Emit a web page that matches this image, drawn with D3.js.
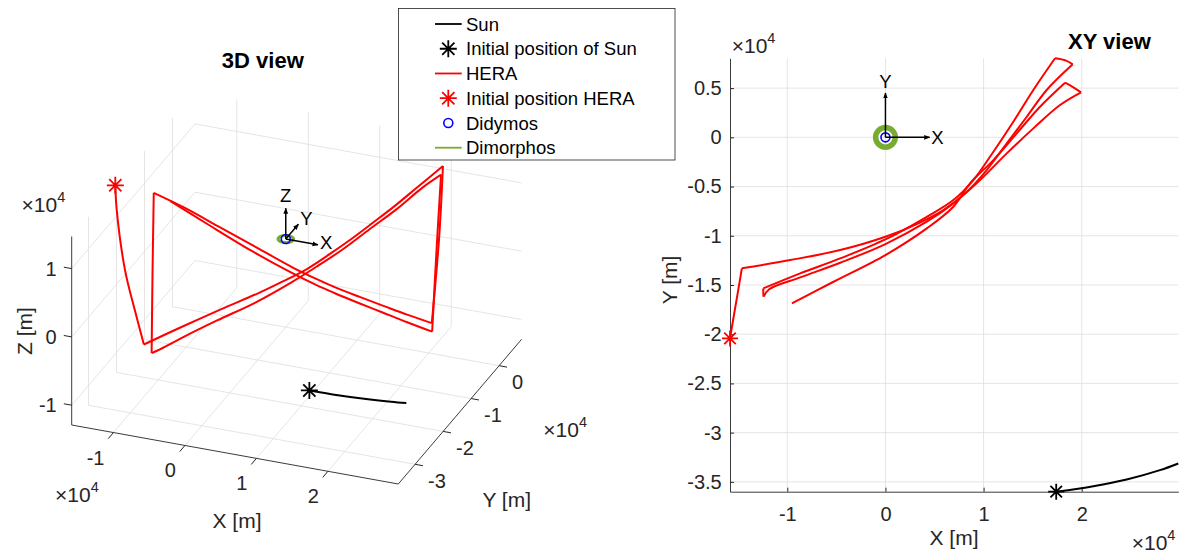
<!DOCTYPE html>
<html lang="en">
<head>
<meta charset="UTF-8">
<title>HERA trajectory - 3D and XY views</title>
<script src="https://d3js.org/d3.v7.min.js"></script>
<style>
  body { margin: 0; background: #fff; }
  svg { display: block; font-family: "Liberation Sans", Arial, Helvetica, sans-serif; }
</style>
</head>
<body>
<svg id="chart" width="1186" height="555"></svg>
<script>
// HERA trajectory in the Didymos-centred frame [m]
var heraX = [-15840, -15780, -15430, -14990, -14630, -9700, -4610, 0, 3190, 5910, 8290, 10320, 12360, 14400, 16430, 19080,
             18400, 17280, 15070, 13030, 11000, 8960, 6920, 4210, 0, -4610, -8690, -12450,
             -12450, -12420, -11880, -8690, -4610, 0, 4210, 6920, 9640, 12360, 15070, 17790, 19930,
             19110, 18300, 15750, 13380, 11000, 8620, 6920, 4210, 0, -5290, -9530];
var heraY = [-20430, -20070, -18010, -15450, -13310, -12470, -11450, -10100, -8810, -7390, -5530, -3320, -610, 2090, 4810, 7420,
             7800, 8030, 4810, 1590, -1460, -4340, -6370, -8070, -10370, -12300, -13820, -15350,
             -15800, -16190, -15450, -14230, -12740, -10840, -8570, -6710, -4340, -1630, 910, 3280, 4570,
             5110, 5550, 3110, 410, -2310, -4670, -7050, -9250, -11960, -14670, -16870];
var heraZ = [14700, 10900, 1200, -6100, -11800, -8710, -5660, -3120, -1290, 320, 2010, 3450, 4970, 6540, 8300, 10730,
             0, -12900, -10530, -8080, -5730, -3450, -1540, 470, 3740, 6900, 9560, 11800,
             0, -11260, -11130, -9110, -6660, -4080, -1380, 480, 2380, 4560, 6720, 9280, 11000,
             0, -12770, -10700, -8420, -6130, -4020, -1980, 430, 3970, 8300, 11870];
// indices where the trajectory turns sharply (manoeuvres)
var heraCorners = [0, 4, 15, 17, 27, 29, 40, 42, 51];

// Sun direction track [m]
var sunX = [17400, 21180, 24580, 27970, 29840];
var sunY = [-36000, -35440, -34760, -33810, -33130];
var sunZ = [-1550, -1800, -2000, -2250, -2430];

// Dimorphos orbit radius and frame arrow length [m]
var dimorphosRadius = 1000;
var frameLength = 4500;

// ticks
var ticks3X = [-10000, 0, 10000, 20000];
var ticks3Y = [-30000, -20000, -10000, 0];
var ticks3Z = [-10000, 0, 10000];
var ticksXYx = [-10000, 0, 10000, 20000];
var ticksXYy = [5000, 0, -5000, -10000, -15000, -20000, -25000, -30000, -35000];

var legendLabels = ["Sun", "Initial position of Sun", "HERA", "Initial position HERA", "Didymos", "Dimorphos"];

var AX = "#262626", GRID = "#dedede", RED = "#ff0000", GREEN = "#77ac30", BLUE = "#0000ff";
var TICKFONT = 20;
var fmt = function(d) { return String(d / 1e4); };

var svg = d3.select("#chart");

svg.append("defs").append("marker")
    .attr("id", "ah").attr("viewBox", "0 0 10 10").attr("refX", 9).attr("refY", 5)
    .attr("markerWidth", 6).attr("markerHeight", 6).attr("markerUnits", "userSpaceOnUse")
    .attr("orient", "auto")
  .append("path").attr("d", "M0,1L10,5L0,9Z").attr("fill", "#000");

var hera = heraX.map(function(x, i) { return {x: x, y: heraY[i], z: heraZ[i]}; });
var sun = sunX.map(function(x, i) { return {x: x, y: sunY[i], z: sunZ[i]}; });

var xExt = d3.extent(heraX.concat(sunX));
var yExt = d3.extent(heraY.concat(sunY));
var zExt = d3.extent(heraZ.concat(sunZ));

var legs = [];
for (var i = 0; i < heraCorners.length - 1; i++) {
    legs.push(hera.slice(heraCorners[i], heraCorners[i + 1] + 1));
}

function starPath(cx, cy, r) {
    var d = r * 0.72;
    return "M" + (cx - r) + "," + cy + "H" + (cx + r) +
           "M" + cx + "," + (cy - r) + "V" + (cy + r) +
           "M" + (cx - d) + "," + (cy - d) + "L" + (cx + d) + "," + (cy + d) +
           "M" + (cx - d) + "," + (cy + d) + "L" + (cx + d) + "," + (cy - d);
}

function expLabel(g, x, y) {
    var t = g.append("text").attr("x", x).attr("y", y).attr("fill", AX).attr("font-size", 21);
    t.append("tspan").text("\u00d710");
    t.append("tspan").attr("dy", -10).attr("font-size", 14.5).text("4");
}

// ---------------- 3D view ----------------
var box = {ox: 71.7, oy: 425, vx: [326.6, 59], vy: [123.3, -144.7], vz: [0, -188.5]};
var x3 = d3.scaleLinear().domain(xExt).range([0, 1]);
var y3 = d3.scaleLinear().domain(yExt).range([0, 1]);
var z3 = d3.scaleLinear().domain(zExt).range([0, 1]);

function P(x, y, z) {
    var u = x3(x), v = y3(y), w = z3(z);
    return [box.ox + u * box.vx[0] + v * box.vy[0] + w * box.vz[0],
            box.oy + u * box.vx[1] + v * box.vy[1] + w * box.vz[1]];
}
function unit(v) { var l = Math.hypot(v[0], v[1]); return [v[0] / l, v[1] / l]; }
var ux = unit(box.vx), uy = unit(box.vy);

var g3 = svg.append("g");

var segs = [];
ticks3X.forEach(function(t) {
    segs.push([[t, yExt[0], zExt[0]], [t, yExt[1], zExt[0]]]);
    segs.push([[t, yExt[1], zExt[0]], [t, yExt[1], zExt[1]]]);
});
ticks3Y.forEach(function(t) {
    segs.push([[xExt[0], t, zExt[0]], [xExt[1], t, zExt[0]]]);
    segs.push([[xExt[0], t, zExt[0]], [xExt[0], t, zExt[1]]]);
});
ticks3Z.forEach(function(t) {
    segs.push([[xExt[0], yExt[0], t], [xExt[0], yExt[1], t]]);
    segs.push([[xExt[0], yExt[1], t], [xExt[1], yExt[1], t]]);
});
g3.append("g").selectAll("line").data(segs).join("line")
    .attr("x1", function(s) { return P.apply(null, s[0])[0]; })
    .attr("y1", function(s) { return P.apply(null, s[0])[1]; })
    .attr("x2", function(s) { return P.apply(null, s[1])[0]; })
    .attr("y2", function(s) { return P.apply(null, s[1])[1]; })
    .attr("stroke", GRID).attr("stroke-width", 0.8);

var axes3 = [
    [[xExt[0], yExt[0], zExt[0]], [xExt[1], yExt[0], zExt[0]]],
    [[xExt[1], yExt[0], zExt[0]], [xExt[1], yExt[1], zExt[0]]],
    [[xExt[0], yExt[0], zExt[0]], [xExt[0], yExt[0], zExt[1]]]
];
g3.append("g").selectAll("line").data(axes3).join("line")
    .attr("x1", function(s) { return P.apply(null, s[0])[0]; })
    .attr("y1", function(s) { return P.apply(null, s[0])[1]; })
    .attr("x2", function(s) { return P.apply(null, s[1])[0]; })
    .attr("y2", function(s) { return P.apply(null, s[1])[1]; })
    .attr("stroke", AX).attr("stroke-width", 0.9);

var TK = 8;
var tickG = g3.append("g").attr("fill", AX).attr("font-size", TICKFONT);
ticks3X.forEach(function(t) {
    var p = P(t, yExt[0], zExt[0]);
    tickG.append("line").attr("x1", p[0]).attr("y1", p[1])
        .attr("x2", p[0] - uy[0] * TK).attr("y2", p[1] - uy[1] * TK).attr("stroke", AX);
    tickG.append("text").attr("x", p[0] - 9).attr("y", p[1] + 32)
        .attr("text-anchor", "end").text(fmt(t));
});
ticks3Y.forEach(function(t) {
    var p = P(xExt[1], t, zExt[0]);
    tickG.append("line").attr("x1", p[0]).attr("y1", p[1])
        .attr("x2", p[0] + ux[0] * TK).attr("y2", p[1] + ux[1] * TK).attr("stroke", AX);
    tickG.append("text").attr("x", p[0] + 13).attr("y", p[1] + 23.5)
        .attr("text-anchor", "start").text(fmt(t));
});
ticks3Z.forEach(function(t) {
    var p = P(xExt[0], yExt[0], t);
    tickG.append("line").attr("x1", p[0]).attr("y1", p[1])
        .attr("x2", p[0] - ux[0] * TK).attr("y2", p[1] - ux[1] * TK).attr("stroke", AX);
    tickG.append("text").attr("x", p[0] - 15).attr("y", p[1] + 7.2)
        .attr("text-anchor", "end").text(fmt(t));
});

expLabel(g3, 21.5, 211.5);
expLabel(g3, 55, 501.7);
expLabel(g3, 543.3, 436.7);

g3.append("text").attr("x", 237).attr("y", 528).attr("text-anchor", "middle")
    .attr("font-size", 21).attr("fill", AX).text("X [m]");
g3.append("text").attr("x", 506.7).attr("y", 506.7).attr("text-anchor", "middle")
    .attr("font-size", 21).attr("fill", AX).text("Y [m]");
g3.append("text").attr("transform", "translate(31.5,331) rotate(-90)").attr("text-anchor", "middle")
    .attr("font-size", 21).attr("fill", AX).text("Z [m]");
g3.append("text").attr("x", 262.8).attr("y", 68.3).attr("text-anchor", "middle")
    .attr("font-size", 22).attr("font-weight", "bold").attr("fill", "#000").text("3D view");

var line3 = d3.line()
    .x(function(d) { return P(d.x, d.y, d.z)[0]; })
    .y(function(d) { return P(d.x, d.y, d.z)[1]; })
    .curve(d3.curveCatmullRom.alpha(0.5));

// Dimorphos orbit and Didymos
var o3 = P(0, 0, 0);
var rx = x3(dimorphosRadius) - x3(0), ry = y3(dimorphosRadius) - y3(0);
g3.append("circle").attr("r", 1).attr("fill", "none").attr("stroke", GREEN)
    .attr("stroke-width", 3).attr("vector-effect", "non-scaling-stroke")
    .attr("transform", "matrix(" + [rx * box.vx[0], rx * box.vx[1], ry * box.vy[0], ry * box.vy[1], o3[0], o3[1]].join(",") + ")");
g3.append("circle").attr("cx", o3[0]).attr("cy", o3[1]).attr("r", 4.5)
    .attr("fill", "none").attr("stroke", BLUE).attr("stroke-width", 1.6);

g3.append("g").selectAll("path").data(legs).join("path")
    .attr("d", line3).attr("fill", "none").attr("stroke", RED).attr("stroke-width", 2)
    .attr("stroke-linejoin", "round");
g3.append("path").attr("d", line3(sun)).attr("fill", "none").attr("stroke", "#000").attr("stroke-width", 2);

var frame3 = [
    {p: [frameLength, 0, 0], label: "X", dx: 2, dy: 4, anchor: "start"},
    {p: [0, frameLength, 0], label: "Y", dx: 2, dy: 1, anchor: "start"},
    {p: [0, 0, frameLength], label: "Z", dx: 0, dy: -6.5, anchor: "middle"}
];
frame3.forEach(function(f) {
    var q = P(f.p[0], f.p[1], f.p[2]);
    g3.append("line").attr("x1", o3[0]).attr("y1", o3[1]).attr("x2", q[0]).attr("y2", q[1])
        .attr("stroke", "#000").attr("stroke-width", 1.5).attr("marker-end", "url(#ah)");
    g3.append("text").attr("x", q[0] + f.dx).attr("y", q[1] + f.dy).attr("text-anchor", f.anchor)
        .attr("font-size", 18.5).attr("fill", "#000").text(f.label);
});

var h0 = P(hera[0].x, hera[0].y, hera[0].z), s0 = P(sun[0].x, sun[0].y, sun[0].z);
g3.append("path").attr("d", starPath(h0[0], h0[1], 8.5)).attr("stroke", RED).attr("stroke-width", 1.8);
g3.append("path").attr("d", starPath(s0[0], s0[1], 8.5)).attr("stroke", "#000").attr("stroke-width", 1.8);

// ---------------- XY view ----------------
var xy = {left: 730, right: 1178.3, top: 58.3, bottom: 491.7};
var xs = d3.scaleLinear().domain(xExt).range([xy.left, xy.right]);
var ys = d3.scaleLinear().domain(yExt).range([xy.bottom, xy.top]);
var g2 = svg.append("g");

g2.append("g").selectAll("line").data(ticksXYx).join("line")
    .attr("x1", xs).attr("x2", xs).attr("y1", xy.top).attr("y2", xy.bottom)
    .attr("stroke", GRID).attr("stroke-width", 0.8);
g2.append("g").selectAll("line").data(ticksXYy).join("line")
    .attr("y1", ys).attr("y2", ys).attr("x1", xy.left).attr("x2", xy.right)
    .attr("stroke", GRID).attr("stroke-width", 0.8);

var axB = g2.append("g").attr("transform", "translate(0," + xy.bottom + ")")
    .call(d3.axisBottom(xs).tickValues(ticksXYx).tickFormat(fmt).tickSizeInner(-4).tickSizeOuter(0).tickPadding(15));
var axL = g2.append("g").attr("transform", "translate(" + xy.left + ",0)")
    .call(d3.axisLeft(ys).tickValues(ticksXYy).tickFormat(fmt).tickSizeInner(-4).tickSizeOuter(0).tickPadding(8.3));
[axB, axL].forEach(function(a) {
    a.attr("font-family", null).attr("font-size", TICKFONT);
    a.select(".domain").attr("stroke", AX).attr("stroke-width", 0.9);
    a.selectAll(".tick line").attr("stroke", AX);
    a.selectAll(".tick text").attr("fill", AX);
});

expLabel(g2, 731.7, 53.3);
expLabel(g2, 1131.7, 550);
g2.append("text").attr("x", 954).attr("y", 545).attr("text-anchor", "middle")
    .attr("font-size", 21).attr("fill", AX).text("X [m]");
g2.append("text").attr("transform", "translate(677,280) rotate(-90)").attr("text-anchor", "middle")
    .attr("font-size", 21).attr("fill", AX).text("Y [m]");
g2.append("text").attr("x", 1109.4).attr("y", 49.2).attr("text-anchor", "middle")
    .attr("font-size", 22).attr("font-weight", "bold").attr("fill", "#000").text("XY view");

var line2 = d3.line()
    .x(function(d) { return xs(d.x); })
    .y(function(d) { return ys(d.y); })
    .curve(d3.curveCatmullRom.alpha(0.5));

var o2 = [xs(0), ys(0)];
g2.append("circle").attr("cx", o2[0]).attr("cy", o2[1]).attr("r", xs(dimorphosRadius) - xs(0))
    .attr("fill", "none").attr("stroke", GREEN).attr("stroke-width", 5.5);
g2.append("circle").attr("cx", o2[0]).attr("cy", o2[1]).attr("r", 4.5)
    .attr("fill", "none").attr("stroke", BLUE).attr("stroke-width", 1.6);

g2.append("g").selectAll("path").data(legs).join("path")
    .attr("d", line2).attr("fill", "none").attr("stroke", RED).attr("stroke-width", 2)
    .attr("stroke-linejoin", "round");
g2.append("path").attr("d", line2(sun)).attr("fill", "none").attr("stroke", "#000").attr("stroke-width", 2);

var frame2 = [
    {p: [frameLength, 0], label: "X", dx: 1.7, dy: 6.3, anchor: "start"},
    {p: [0, frameLength], label: "Y", dx: 0, dy: -5, anchor: "middle"}
];
frame2.forEach(function(f) {
    var q = [xs(f.p[0]), ys(f.p[1])];
    g2.append("line").attr("x1", o2[0]).attr("y1", o2[1]).attr("x2", q[0]).attr("y2", q[1])
        .attr("stroke", "#000").attr("stroke-width", 1.5).attr("marker-end", "url(#ah)");
    g2.append("text").attr("x", q[0] + f.dx).attr("y", q[1] + f.dy).attr("text-anchor", f.anchor)
        .attr("font-size", 18.5).attr("fill", "#000").text(f.label);
});

g2.append("path").attr("d", starPath(xs(hera[0].x), ys(hera[0].y), 8)).attr("stroke", RED).attr("stroke-width", 1.8);
g2.append("path").attr("d", starPath(xs(sun[0].x), ys(sun[0].y), 8)).attr("stroke", "#000").attr("stroke-width", 1.8);

// ---------------- legend ----------------
var lg = svg.append("g").attr("font-size", 18.5);
lg.append("rect").attr("x", 398.5).attr("y", 8.5).attr("width", 276.5).attr("height", 151.5)
    .attr("fill", "#fff").attr("stroke", "#3a3a3a").attr("stroke-width", 0.9);
var rowY = d3.scaleLinear().domain([0, legendLabels.length - 1]).range([24, 147.7]);
var sampleX = [435, 461.7], markX = 448.3;
legendLabels.forEach(function(lab, i) {
    var y = rowY(i);
    if (i === 0 || i === 2 || i === 5) {
        lg.append("line").attr("x1", sampleX[0]).attr("x2", sampleX[1]).attr("y1", y).attr("y2", y)
            .attr("stroke", i === 0 ? "#000" : (i === 2 ? RED : GREEN)).attr("stroke-width", 1.8);
    } else if (i === 1 || i === 3) {
        lg.append("path").attr("d", starPath(markX, y, 8.5))
            .attr("stroke", i === 1 ? "#000" : RED).attr("stroke-width", 1.8);
    } else {
        lg.append("circle").attr("cx", markX).attr("cy", y).attr("r", 4.5)
            .attr("fill", "none").attr("stroke", BLUE).attr("stroke-width", 1.6);
    }
    lg.append("text").attr("x", 466).attr("y", y + 6.6).attr("fill", "#000").text(lab);
});
</script>
</body>
</html>
